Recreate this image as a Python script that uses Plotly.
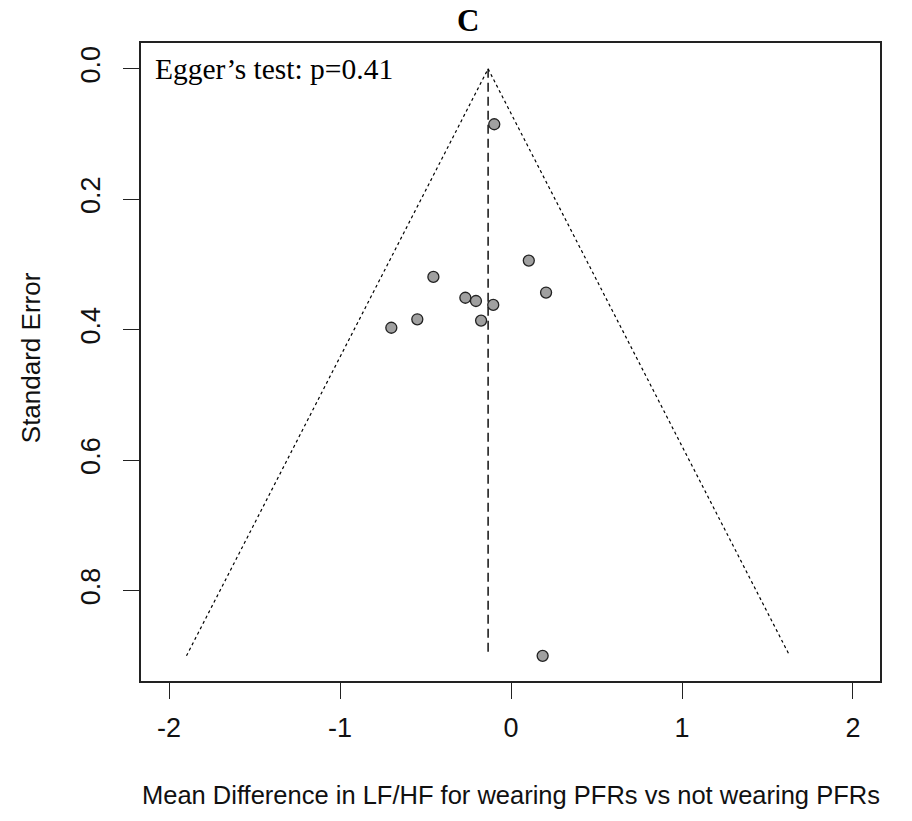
import plotly.graph_objects as go

# Study effect sizes (mean difference in LF/HF) and their standard errors
mean_diff = [-0.098, 0.104, -0.454, -0.267, -0.205, -0.104, 0.205, -0.175, -0.548, -0.700, 0.185]
std_err = [0.085, 0.294, 0.319, 0.351, 0.356, 0.362, 0.343, 0.386, 0.384, 0.397, 0.900]

pooled_estimate = -0.134
se_max = 0.90

x_ticks = [-2, -1, 0, 1, 2]
y_ticks = [0.0, 0.2, 0.4, 0.6, 0.8]
y_tick_text = ["0.0", "0.2", "0.4", "0.6", "0.8"]

sans = "Liberation Sans, Arial, sans-serif"
serif = "Liberation Serif, Times New Roman, serif"

fig = go.Figure()

# 95% pseudo-confidence funnel
left_x = pooled_estimate - 1.96 * se_max
right_x = pooled_estimate + 1.96 * se_max
fig.add_trace(go.Scatter(
    x=[left_x, pooled_estimate, right_x], y=[se_max, 0.0, se_max],
    mode="lines", line=dict(color="black", width=1.2, dash="3px,3px"),
    hoverinfo="skip", showlegend=False))

# Pooled estimate line
fig.add_trace(go.Scatter(
    x=[pooled_estimate, pooled_estimate], y=[0.0, se_max],
    mode="lines", line=dict(color="black", width=1.4, dash="9px,5px"),
    hoverinfo="skip", showlegend=False))

# Individual studies
fig.add_trace(go.Scatter(
    x=mean_diff, y=std_err, mode="markers",
    marker=dict(size=11, color="#a0a0a0", line=dict(color="#222222", width=1.3)),
    showlegend=False))

axis_common = dict(
    showgrid=False, zeroline=False, showline=True, mirror=True,
    linecolor="#222222", linewidth=1.6,
    ticks="outside", ticklen=16, tickwidth=1.4, tickcolor="#222222",
    tickfont=dict(family=sans, size=27, color="#111111"),
)

fig.update_xaxes(
    range=[-2.164, 2.158], tickvals=x_ticks, ticktext=[str(v) for v in x_ticks],
    ticklabelstandoff=6, **axis_common)
fig.update_yaxes(
    range=[0.9386, -0.0396], tickvals=y_ticks, ticktext=y_tick_text,
    tickangle=-90, ticklabelstandoff=12, **axis_common)

fig.add_annotation(
    text="<b>C</b>", xref="paper", yref="paper", x=(468 - 141) / 739, y=1.035,
    showarrow=False, xanchor="center", yanchor="middle",
    font=dict(family=serif, size=31, color="black"))

fig.add_annotation(
    text="Egger\u2019s test: p=0.41", xref="paper", yref="y", x=0.016, y=0.0,
    showarrow=False, xanchor="left", yanchor="middle",
    font=dict(family=serif, size=29.5, color="black"))

fig.add_annotation(
    text="Mean Difference in LF/HF for wearing PFRs vs not wearing PFRs",
    xref="paper", yref="paper", x=0.5, y=-0.1787,
    showarrow=False, xanchor="center", yanchor="middle",
    font=dict(family=sans, size=25.5, color="#111111"))

fig.add_annotation(
    text="Standard Error", xref="paper", yref="paper", x=-0.1488, y=0.506,
    showarrow=False, xanchor="center", yanchor="middle", textangle=-90,
    font=dict(family=sans, size=26, color="#111111"))

fig.update_layout(
    width=912, height=821,
    margin=dict(l=141, r=32, t=43, b=140),
    paper_bgcolor="white", plot_bgcolor="white",
)

fig.write_html("out.html")
